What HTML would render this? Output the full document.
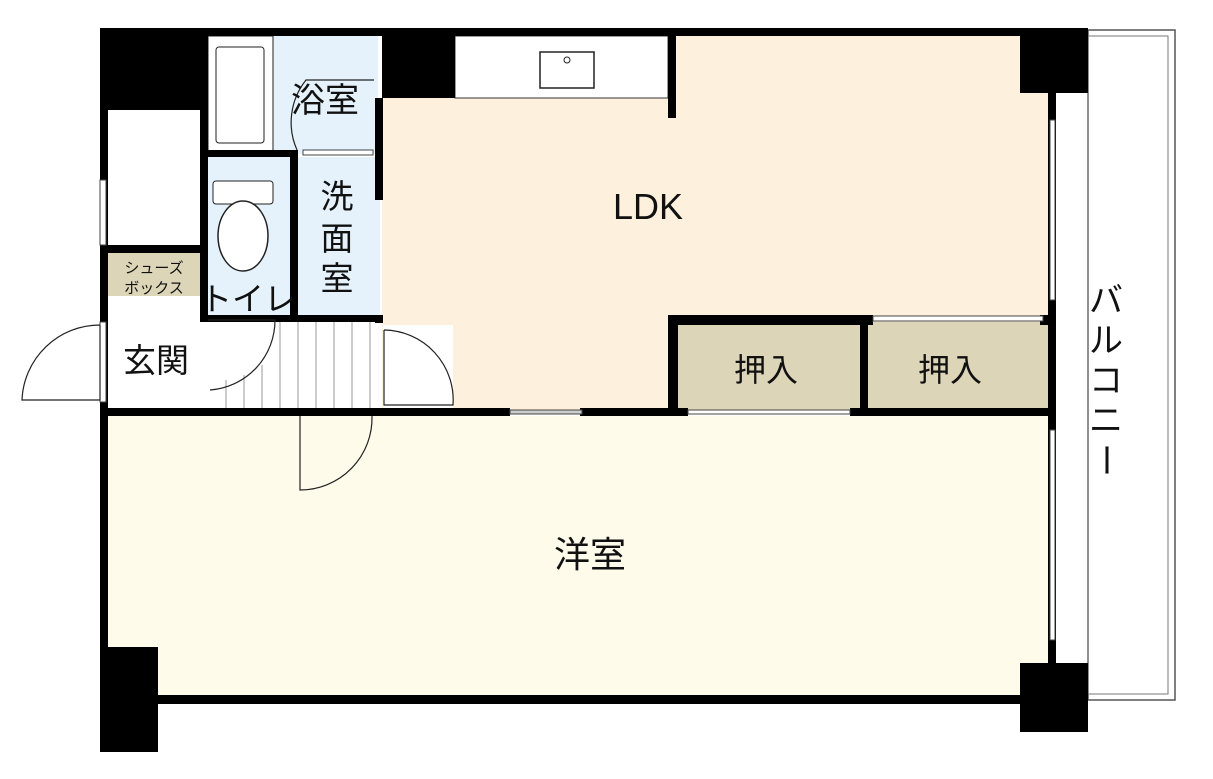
<!DOCTYPE html>
<html><head><meta charset="utf-8"><style>
html,body{margin:0;padding:0;background:#fff;}
svg{display:block}
text{font-family:"Liberation Sans","Noto Sans CJK JP",sans-serif;fill:#111}
</style></head><body>
<svg width="1213" height="779" viewBox="0 0 1213 779" xmlns="http://www.w3.org/2000/svg">
<!-- fills -->
<rect x="382" y="36" width="668" height="376" fill="#fdf0dc"/>
<rect x="383" y="325" width="70" height="83" fill="#fff"/>
<rect x="455" y="36" width="213" height="62" fill="#fff" stroke="#333" stroke-width="1"/>
<rect x="540" y="52" width="54" height="36" fill="#fff" stroke="#222" stroke-width="1.5"/>
<circle cx="567" cy="60" r="3" fill="none" stroke="#222"/>
<rect x="108" y="416" width="942" height="280" fill="#fefbea"/>
<rect x="208" y="36" width="170" height="118" fill="#e5f2fb"/>
<rect x="208" y="36" width="65" height="118" fill="#fff" stroke="#222" stroke-width="1"/>
<rect x="216" y="47" width="48" height="96" rx="3" fill="#fff" stroke="#222" stroke-width="1"/>
<rect x="205" y="157" width="88" height="160" fill="#e5f2fb"/>
<rect x="213" y="181" width="60" height="23" rx="3" fill="#fff" stroke="#222"/>
<ellipse cx="243" cy="236" rx="25" ry="35" fill="#fff" stroke="#222" stroke-width="1.5"/>
<rect x="298" y="157" width="82" height="160" fill="#e5f2fb"/>
<rect x="108" y="110" width="92" height="136" fill="#fff"/>
<rect x="108" y="253" width="92" height="43" fill="#ddd5b8"/>
<rect x="108" y="296" width="92" height="114" fill="#fff"/>
<rect x="676" y="322" width="186" height="88" fill="#ddd5b8"/>
<rect x="868" y="322" width="180" height="88" fill="#ddd5b8"/>
<!-- hallway stripes -->
<g stroke="#999" stroke-width="1">
<line x1="280" y1="322" x2="280" y2="408"/><line x1="298" y1="322" x2="298" y2="408"/>
<line x1="316" y1="322" x2="316" y2="408"/><line x1="334" y1="322" x2="334" y2="408"/>
<line x1="352" y1="322" x2="352" y2="408"/><line x1="370" y1="322" x2="370" y2="408"/>
<line x1="226" y1="380" x2="226" y2="408"/><line x1="244" y1="375" x2="244" y2="408"/><line x1="262" y1="365" x2="262" y2="408"/>
</g>
<!-- balcony -->
<rect x="1088" y="30" width="87" height="670" fill="#fff" stroke="#555" stroke-width="1.5"/>
<rect x="1088" y="36" width="80" height="658" fill="none" stroke="#777" stroke-width="1"/>
<!-- walls -->
<g fill="#000">
<rect x="100" y="28" width="988" height="8"/>
<rect x="100" y="28" width="108" height="82"/>
<rect x="100" y="28" width="8" height="724"/>
<rect x="100" y="647" width="58" height="105"/>
<rect x="100" y="695" width="988" height="9"/>
<rect x="1020" y="663" width="68" height="69"/>
<rect x="1020" y="28" width="68" height="65"/>
<rect x="1048" y="93" width="8" height="570"/>
<rect x="382" y="28" width="73" height="70"/>
<rect x="668" y="36" width="8" height="82"/>
<rect x="375" y="98" width="8" height="102"/>
<rect x="200" y="110" width="8" height="212"/>
<rect x="100" y="245" width="105" height="8"/>
<rect x="205" y="150" width="88" height="7"/>
<rect x="290" y="150" width="8" height="170"/>
<rect x="200" y="315" width="182" height="7"/>
<rect x="375" y="315" width="8" height="8"/>
<rect x="100" y="408" width="410" height="8"/>
<rect x="580" y="408" width="108" height="8"/>
<rect x="850" y="408" width="206" height="8"/>
<rect x="668" y="315" width="205" height="10"/>
<rect x="1040" y="315" width="16" height="10"/>
<rect x="668" y="315" width="10" height="100"/>
<rect x="860" y="315" width="8" height="100"/>
</g>
<!-- windows -->
<g fill="#fff" stroke="#444" stroke-width="1">
<rect x="1050" y="120" width="5" height="180"/><rect x="1050" y="430" width="5" height="210"/>
<rect x="100" y="180" width="6" height="65"/><rect x="100" y="322" width="6" height="80"/>
<rect x="873" y="316" width="170" height="5"/>
<rect x="688" y="410" width="162" height="4"/>
<rect x="510" y="410" width="72" height="4" fill="#ccc"/>
<rect x="303" y="150" width="70" height="5"/>
</g>
<!-- doors -->
<g fill="none" stroke="#222" stroke-width="1.2">
<path d="M374 80 L306 80 A68 68 0 0 0 297 150"/>
<path d="M208 320 L275 320 A70 70 0 0 1 210 390"/>
<path d="M384 330 L384 405 L453 405 A70 70 0 0 0 384 330"/>
<path d="M300 416 L300 490 A72 72 0 0 0 372 416"/>
<path d="M100 325 L100 400 L22 400 A78 78 0 0 1 100 325"/>
</g>
<!-- labels -->
<text x="325" y="112" font-size="34" text-anchor="middle">浴室</text>
<text x="337" y="208" font-size="33" text-anchor="middle">洗</text>
<text x="337" y="250" font-size="33" text-anchor="middle">面</text>
<text x="337" y="290" font-size="33" text-anchor="middle">室</text>
<text x="248" y="310" font-size="32" text-anchor="middle">トイレ</text>
<text x="154" y="273" font-size="15" text-anchor="middle">シューズ</text>
<text x="154" y="293" font-size="15" text-anchor="middle">ボックス</text>
<text x="156" y="372" font-size="33" text-anchor="middle">玄関</text>
<text x="648" y="219" font-size="36" text-anchor="middle">LDK</text>
<text x="766" y="381" font-size="32" text-anchor="middle">押入</text>
<text x="950" y="381" font-size="32" text-anchor="middle">押入</text>
<text x="590" y="567" font-size="36" text-anchor="middle">洋室</text>
<g font-size="34" text-anchor="middle">
<text x="1106" y="312">バ</text><text x="1106" y="352">ル</text><text x="1106" y="392">コ</text><text x="1106" y="432">ニ</text><text x="1106" y="472" transform="rotate(90 1106 460)">ー</text>
</g>
</svg>
</body></html>
